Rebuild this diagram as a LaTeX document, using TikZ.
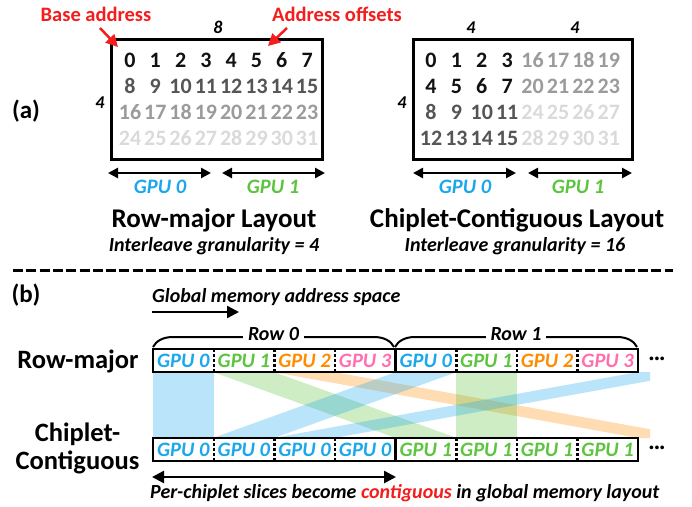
\documentclass[tikz,border=0pt]{standalone}
\usepackage{fontspec}
\setmainfont{Carlito}
\usetikzlibrary{arrows.meta,decorations.pathreplacing,backgrounds}
\definecolor{gblue}{HTML}{1AA7EC}
\definecolor{ggreen}{HTML}{5CC43E}
\definecolor{gorange}{HTML}{FF8C00}
\definecolor{gpink}{HTML}{FF6FB0}
\definecolor{redlbl}{HTML}{F41C1C}
\definecolor{nA}{HTML}{111111}
\definecolor{nB}{HTML}{555555}
\definecolor{nC}{HTML}{9B9B9B}
\definecolor{nD}{HTML}{DADADA}
\newcommand\fsz[1]{\fontsize{#1pt}{#1pt}\selectfont}
\begin{document}
\begin{tikzpicture}[x=1pt,y=-1pt,
  num/.style={anchor=base, inner sep=0, font=\fsz{22}\bfseries},
  dimlbl/.style={anchor=base, inner sep=0, font=\fsz{18}\bfseries\itshape},
  gpulbl/.style={anchor=base, inner sep=0, font=\fsz{20.5}\bfseries\itshape},
  ttl/.style={anchor=base, inner sep=0, font=\fsz{27}\bfseries},
  subt/.style={anchor=base, inner sep=0, font=\fsz{20}\bfseries\itshape},
  redtxt/.style={anchor=base, inner sep=0, font=\fsz{20.5}\bfseries, text=redlbl},
  dimarrow/.style={{Triangle[length=10pt,width=10pt]}-{Triangle[length=10pt,width=10pt]}, line width=2.5pt},
  redarr/.style={-{Triangle[length=12pt,width=12pt]}, line width=2.5pt, draw=redlbl},
  matbox/.style={draw, line width=3pt, inner sep=0, minimum height=120pt},
  cell/.style={inner sep=0, minimum width=60.6pt, minimum height=23pt, font=\fsz{20.5}\bfseries\itshape},
  rowbox/.style={draw, line width=2.5pt, inner sep=0, minimum width=242.5pt, minimum height=23pt},
  divider/.style={line width=2.5pt, dash pattern=on 3pt off 2pt},
  bandstyle/.style={fill opacity=0.3},
  bracestyle/.style={decorate, decoration={brace, amplitude=20pt}, line width=2pt},
  rowlbl/.style={font=\fsz{20}\bfseries\itshape, fill=white, inner xsep=5pt, inner ysep=3pt},
  sidelbl/.style={anchor=base, inner sep=0, font=\fsz{26.5}\bfseries},
  dotslbl/.style={inner sep=0, font=\fsz{20}\bfseries}
]
\useasboundingbox (0,0) rectangle (692,506);

% ---------------- (a) ----------------
\node[sidelbl, font=\fsz{25}\bfseries] (alabel) at (26,118) {(a)};
\node[redtxt] (basetxt) at (96,21) {Base address};
\node[redtxt] (offtxt) at (337,21) {Address offsets};

% left matrix
\node[matbox, minimum width=211pt] (Lbox) at (216.5,99) {};
\node[dimlbl] (L8) at (218,33) {8};
\node[dimlbl] (L4) at (100,108) {4};
\foreach \r/\col in {0/nA,1/nB,2/nC,3/nD}{
  \foreach \c in {0,...,7}{
    \pgfmathtruncatemacro\v{\r*8+\c}
    \node[num, text=\col] (L-\r-\c) at (130+25.3*\c, 67+26.3*\r) {\v};
  }
}
\coordinate (bs) at (100,28);
\coordinate (be) at (118,47);
\draw[redarr] (bs) -- (be);
\coordinate (os) at (287,28);
\coordinate (oe) at (268,46);
\draw[redarr] (os) -- (oe);

\coordinate (la1) at (108,173);
\coordinate (la2) at (211,173);
\coordinate (la3) at (222,173);
\coordinate (la4) at (325,173);
\draw[dimarrow] (la1) -- (la2);
\draw[dimarrow] (la3) -- (la4);
\node[gpulbl, text=gblue] (LG0) at (160,193) {GPU 0};
\node[gpulbl, text=ggreen] (LG1) at (273,193) {GPU 1};
\node[ttl] (Lttl) at (214,227) {Row-major Layout};
\node[subt] (Lsub) at (214,251) {Interleave granularity = 4};

% right matrix
\node[matbox, minimum width=219pt] (Rbox) at (522.5,99) {};
\node[dimlbl] (R4a) at (471,33) {4};
\node[dimlbl] (R4b) at (575,33) {4};
\node[dimlbl] (R4c) at (402,108) {4};
\foreach \r in {0,...,3}{
  \foreach \c in {0,...,7}{
    \ifnum\c<4
      \pgfmathtruncatemacro\v{\r*4+\c}
      \ifnum\r<2 \def\col{nA}\else\def\col{nB}\fi
    \else
      \pgfmathtruncatemacro\v{16+\r*4+\c-4}
      \ifnum\r<2 \def\col{nC}\else\def\col{nD}\fi
    \fi
    \node[num, text=\col] (R-\r-\c) at (431+25.4*\c, 67+26.3*\r) {\v};
  }
}
\coordinate (ra1) at (413,173);
\coordinate (ra2) at (516,173);
\coordinate (ra3) at (528,173);
\coordinate (ra4) at (632,173);
\draw[dimarrow] (ra1) -- (ra2);
\draw[dimarrow] (ra3) -- (ra4);
\node[gpulbl, text=gblue] (RG0) at (465,193) {GPU 0};
\node[gpulbl, text=ggreen] (RG1) at (578,193) {GPU 1};
\node[ttl] (Rttl) at (517,227) {Chiplet-Contiguous Layout};
\node[subt] (Rsub) at (515,251) {Interleave granularity = 16};

% separator
\coordinate (sep1) at (13,270);
\coordinate (sep2) at (673,270);
\draw[line width=3pt, dash pattern=on 10pt off 3.3pt] (sep1) -- (sep2);

% ---------------- (b) ----------------
\node[sidelbl, font=\fsz{25}\bfseries] (blabel) at (26,302) {(b)};
\node[subt, anchor=base west] (gmtxt) at (152,302) {Global memory address space};
\coordinate (ga1) at (152,312);
\coordinate (ga2) at (239,312);
\draw[line width=2.5pt, -{Triangle[length=12pt,width=12pt]}] (ga1) -- (ga2);

\node[sidelbl] (rmlbl) at (78,368) {Row-major};
\node[sidelbl] (cclbl1) at (77.5,441) {Chiplet-};
\node[sidelbl] (cclbl2) at (77.5,469) {Contiguous};

% cells
\foreach \i/\t/\cl in {0/GPU 0/gblue,1/GPU 1/ggreen,2/GPU 2/gorange,3/GPU 3/gpink,4/GPU 0/gblue,5/GPU 1/ggreen,6/GPU 2/gorange,7/GPU 3/gpink}{
  \node[cell, text=\cl] (RM\i) at (183.3+60.625*\i, 360.5) {\t};
}
\foreach \i/\t/\cl in {0/GPU 0/gblue,1/GPU 0/gblue,2/GPU 0/gblue,3/GPU 0/gblue,4/GPU 1/ggreen,5/GPU 1/ggreen,6/GPU 1/ggreen,7/GPU 1/ggreen}{
  \node[cell, text=\cl] (CC\i) at (183.3+60.625*\i, 449.5) {\t};
}
\coordinate (RM8a) at (638,372);
\coordinate (RM8b) at (698.6,372);
\coordinate (CC8a) at (638,438);
\coordinate (CC8b) at (698.6,438);

\begin{scope}[on background layer]
  \clip (0,0) rectangle (650,506);
  \fill[gblue, bandstyle] (RM0.south west) -- (RM0.south east) -- (CC0.north east) -- (CC0.north west) -- cycle;
  \fill[ggreen, bandstyle] (RM1.south west) -- (RM1.south east) -- (CC4.north east) -- (CC4.north west) -- cycle;
  \fill[gorange, bandstyle] (RM2.south west) -- (RM2.south east) -- (CC8b) -- (CC8a) -- cycle;
  \fill[gblue, bandstyle] (RM4.south west) -- (RM4.south east) -- (CC1.north east) -- (CC1.north west) -- cycle;
  \fill[ggreen, bandstyle] (RM5.south west) -- (RM5.south east) -- (CC5.north east) -- (CC5.north west) -- cycle;
  \fill[gblue, bandstyle] (RM8a) -- (RM8b) -- (CC2.north east) -- (CC2.north west) -- cycle;
\end{scope}

\node[rowbox] (RMrow0) at (274.25,360.5) {};
\node[rowbox] (RMrow1) at (516.75,360.5) {};
\node[rowbox] (CCrow0) at (274.25,449.5) {};
\node[rowbox] (CCrow1) at (516.75,449.5) {};
\foreach \i in {0,1,2,4,5,6}{
  \draw[divider] (RM\i.north east) -- (RM\i.south east);
  \draw[divider] (CC\i.north east) -- (CC\i.south east);
}
\node[dotslbl] (dots1) at (657,361) {···};
\node[dotslbl] (dots2) at (657,450) {···};

% braces
\coordinate (b0a) at (153,347);
\coordinate (b0b) at (394,347);
\coordinate (b1a) at (395,347);
\coordinate (b1b) at (637,347);
\draw[bracestyle] (b0a) -- (b0b);
\draw[bracestyle] (b1a) -- (b1b);
\node[rowlbl, anchor=base] (row0) at (273.5,340) {Row 0};
\node[rowlbl, anchor=base] (row1) at (516,340) {Row 1};

% bottom arrow
\coordinate (pa1) at (152,477);
\coordinate (pa2) at (396,477);
\draw[dimarrow, {Triangle[length=12pt,width=12pt]}-{Triangle[length=12pt,width=12pt]}] (pa1) -- (pa2);
\node[anchor=base west, inner sep=0, font=\fsz{20}\bfseries\itshape] (pctxt) at (150,498) {Per-chiplet slices become \textcolor{redlbl}{contiguous} in global memory layout};
\end{tikzpicture}
\end{document}
